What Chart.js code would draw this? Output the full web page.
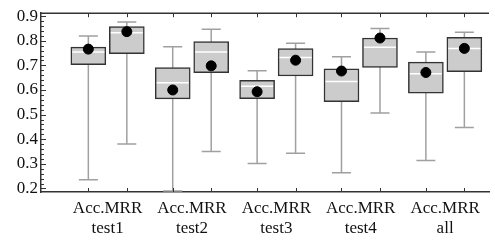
<!DOCTYPE html>
<html>
<head>
<meta charset="utf-8">
<script src="https://cdn.jsdelivr.net/npm/chart.js@4.4.0/dist/chart.umd.min.js"></script>
<style>
  html, body { margin: 0; padding: 0; background: #fff; }
  #wrap { width: 495px; height: 242px; }
  #fontwarm { position: absolute; left: -1000px; top: 0; font-family: "Liberation Serif"; font-size: 17px; }
</style>
</head>
<body>
<span id="fontwarm">Acc.MRR test1 0.9</span>
<div id="wrap"><canvas id="chart"></canvas></div>
<script>
// groups along x, each has an Acc box and an MRR box
const groups = ["test1", "test2", "test3", "test4", "all"];
const metrics = ["Acc.", "MRR"];
const boxPos = [0.772, 1.228, 1.772, 2.228, 2.772, 3.228, 3.772, 4.228, 4.772, 5.228];

// box stats, in box order (test1 Acc, test1 MRR, test2 Acc, ...)
const whiskerLow  = [0.235, 0.381, 0.190, 0.350, 0.301, 0.343, 0.264, 0.507, 0.314, 0.448];
const q1          = [0.703, 0.748, 0.564, 0.670, 0.565, 0.657, 0.553, 0.692, 0.587, 0.674];
const medians     = [0.754, 0.833, 0.629, 0.754, 0.615, 0.732, 0.634, 0.774, 0.666, 0.769];
const q3          = [0.774, 0.858, 0.691, 0.797, 0.639, 0.768, 0.686, 0.811, 0.713, 0.814];
const whiskerHigh = [0.819, 0.876, 0.776, 0.847, 0.678, 0.790, 0.735, 0.850, 0.754, 0.835];
const means       = [0.766, 0.837, 0.600, 0.698, 0.593, 0.721, 0.677, 0.811, 0.671, 0.769];

const yTicks = [0.2, 0.3, 0.4, 0.5, 0.6, 0.7, 0.8, 0.9];

const boxData = boxPos.map((x, i) => ({ x: x, y: [q1[i], q3[i]] }));
const meanData = boxPos.map((x, i) => ({ x: x, y: means[i] }));

Chart.defaults.font.family = "'Liberation Serif', serif";
Chart.defaults.font.size = 17;
Chart.defaults.color = "#111";

// whiskers, medians, inward tick marks and top frame
const boxExtras = {
  id: "boxExtras",
  beforeDatasetsDraw(chart) {
    const ctx = chart.ctx, xs = chart.scales.x, ys = chart.scales.y;
    ctx.save();
    ctx.strokeStyle = "#a0a0a0";
    ctx.lineWidth = 1.5;
    boxPos.forEach((p, i) => {
      const x = xs.getPixelForValue(p);
      const lo = ys.getPixelForValue(whiskerLow[i]);
      const hi = ys.getPixelForValue(whiskerHigh[i]);
      ctx.beginPath();
      ctx.moveTo(x, lo); ctx.lineTo(x, hi);
      ctx.moveTo(x - 9.5, lo); ctx.lineTo(x + 9.5, lo);
      ctx.moveTo(x - 9.5, hi); ctx.lineTo(x + 9.5, hi);
      ctx.stroke();
    });
    ctx.restore();
  },
  afterDatasetDraw(chart, args) {
    if (args.index !== 0) return;
    const ctx = chart.ctx, xs = chart.scales.x, ys = chart.scales.y;
    ctx.save();
    ctx.strokeStyle = "#ffffff";
    ctx.lineWidth = 1.5;
    boxPos.forEach((p, i) => {
      const x = xs.getPixelForValue(p);
      const y = ys.getPixelForValue(medians[i]);
      ctx.beginPath();
      ctx.moveTo(x - 16, y); ctx.lineTo(x + 16, y);
      ctx.stroke();
    });
    ctx.restore();
  },
  afterDraw(chart) {
    const ctx = chart.ctx, xs = chart.scales.x, ys = chart.scales.y;
    const a = chart.chartArea;
    ctx.save();
    ctx.strokeStyle = "#333";
    ctx.lineWidth = 1.5;
    ctx.beginPath();
    ctx.moveTo(a.left, a.top); ctx.lineTo(a.right, a.top);
    ctx.stroke();
    ctx.lineWidth = 1;
    ctx.beginPath();
    boxPos.forEach(p => {
      const x = Math.round(xs.getPixelForValue(p)) + 0.5;
      ctx.moveTo(x, a.bottom); ctx.lineTo(x, a.bottom - 4);
      ctx.moveTo(x, a.top); ctx.lineTo(x, a.top + 4);
    });
    for (let k = 0; k <= 40; k++) {
      const v = Math.round((0.1 + k * 0.02) * 100) / 100;
      if (v < ys.min || v > ys.max) continue;
      const y = Math.round(ys.getPixelForValue(v)) + 0.5;
      const len = (Math.round(v * 100) % 10 === 0) ? 5 : 3;
      ctx.moveTo(a.left, y); ctx.lineTo(a.left + len, y);
    }
    ctx.stroke();
    ctx.restore();
  }
};

const chart = new Chart(document.getElementById("chart"), {
  type: "bar",
  data: {
    datasets: [{
      data: boxData,
      backgroundColor: "#cccccc",
      borderColor: "#333333",
      borderWidth: 1.5,
      borderSkipped: false,
      barThickness: 35,
      grouped: false,
      order: 2
    }, {
      type: "scatter",
      data: meanData,
      backgroundColor: "#000",
      borderColor: "#000",
      pointRadius: 5,
      order: 1
    }]
  },
  options: {
    responsive: true,
    maintainAspectRatio: false,
    animation: false,
    layout: { padding: { top: 9, right: 0, left: 0, bottom: 0 } },
    plugins: { legend: { display: false }, tooltip: { enabled: false } },
    scales: {
      x: {
        type: "linear",
        offset: false,
        min: 0.211,
        max: 5.52,
        grid: { display: false, drawTicks: false, offset: false },
        border: { display: true, color: "#333", width: 1.5 },
        afterBuildTicks(scale) {
          scale.ticks = groups.map((g, i) => ({ value: i + 1 }));
        },
        afterFit(scale) { scale.height = 50; },
        ticks: {
          padding: 6,
          color: "#111",
          font: { size: 17, lineHeight: 1.2 },
          maxRotation: 0,
          autoSkip: false,
          callback(v, i) { return [metrics.join(""), groups[i]]; }
        }
      },
      y: {
        min: 0.1857,
        max: 0.9119,
        grid: { display: false, drawTicks: false },
        border: { display: true, color: "#333", width: 1.5 },
        afterBuildTicks(scale) {
          scale.ticks = yTicks.map(v => ({ value: v }));
        },
        afterFit(scale) { scale.width = 41; },
        ticks: {
          padding: 3,
          color: "#111",
          font: { size: 17 },
          callback(v) { return v.toFixed(1); }
        }
      }
    }
  },
  plugins: [boxExtras]
});

// redraw once the serif face is ready
document.fonts.ready.then(() => chart.update());
setTimeout(() => chart.update(), 50);
</script>
</body>
</html>
